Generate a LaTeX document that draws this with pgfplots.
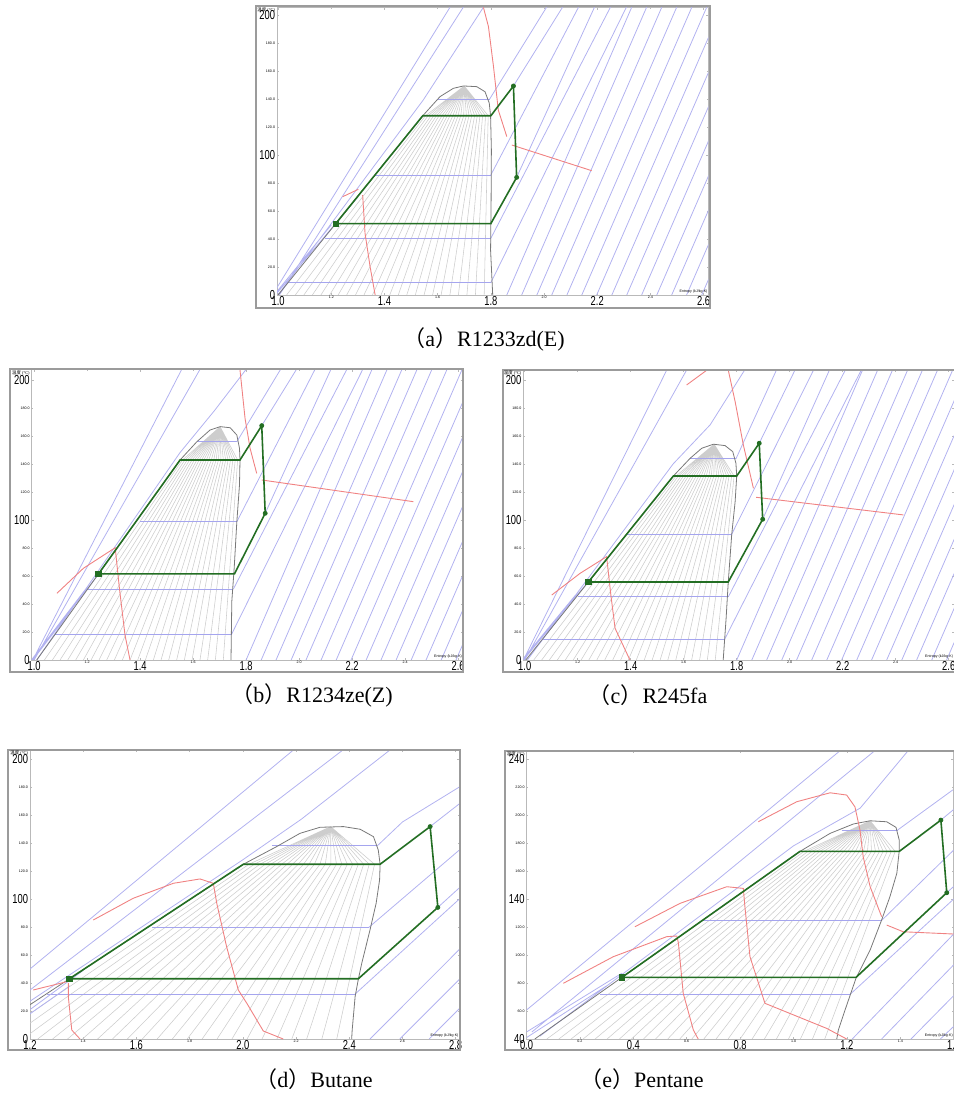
\documentclass[border=0pt]{standalone}
\usepackage{fontspec}
\setmainfont{Liberation Serif}
\newfontfamily\cjk{Noto Sans CJK SC}
\newfontfamily\lab{Liberation Sans}
\usepackage{graphicx}
\usepackage{pgfplots}
\pgfplotsset{compat=1.18}
\definecolor{isoblue}{RGB}{178,178,240}
\definecolor{hblue}{RGB}{165,165,238}
\definecolor{qgray}{RGB}{205,205,205}
\definecolor{domeg}{RGB}{120,120,120}
\definecolor{cgreen}{RGB}{35,110,35}
\definecolor{cred}{RGB}{240,130,130}
\definecolor{framegray}{RGB}{155,155,155}
\newcommand\bl[1]{\scalebox{0.72}[1]{\lab\fontsize{6.5}{6.5}\selectfont #1}}
\newcommand\smlab[1]{{\lab\fontsize{1.8}{2}\selectfont #1}}
\pgfplotsset{
  tsax/.style={scale only axis, anchor=south west, clip=true,
    axis line style={gray!55, line width=0.4pt},
    tick style={gray!55, line width=0.3pt}, major tick length=1.2pt,
    xticklabel style={inner sep=0.5pt, anchor=north},
    yticklabel style={inner sep=0.8pt},
    extra x tick style={major tick length=0.8pt},
    extra y tick style={major tick length=0.8pt}},
  iso/.style={no marks, draw=isoblue, line width=0.4pt, unbounded coords=jump},
  hiso/.style={no marks, draw=hblue, line width=0.45pt, unbounded coords=jump},
  qual/.style={no marks, draw=qgray, line width=0.28pt, unbounded coords=jump},
  dome/.style={no marks, draw=domeg, line width=0.4pt},
  redl/.style={no marks, draw=cred, line width=0.45pt, unbounded coords=jump},
  cyc/.style={no marks, draw=cgreen, line width=0.8pt},
}
\begin{document}
\begin{tikzpicture}
\useasboundingbox (0,0) rectangle (476.5pt,558.5pt);
% ================= (a) =================
\begin{axis}[tsax, name=pa, at={(138.5pt,411pt)}, width=215.7pt, height=143.85pt,
  xmin=0.996, xmax=2.618, ymin=0, ymax=205.5,
  xtick={1.0,1.4,1.8,2.2,2.6}, xticklabels={\bl{1.0},\bl{1.4},\bl{1.8},\bl{2.2},\bl{2.6}},
  extra x ticks={1.2,1.6,2.0,2.4}, extra x tick labels={\smlab{1.2},\smlab{1.6},\smlab{2.0},\smlab{2.4}},
  ytick={0,100,200}, yticklabels={\bl{0},\bl{100},\bl{200}},
  extra y ticks={20,40,60,80,120,140,160,180},
  extra y tick labels={\smlab{20.0},\smlab{40.0},\smlab{60.0},\smlab{80.0},\smlab{120.0},\smlab{140.0},\smlab{160.0},\smlab{180.0}}]
\addplot[qual] coordinates {
(1.032,0)(1.554,128)(1.70,149.3)(1,nan)(1.065,0)(1.564,128)(1.70,149.3)(1,nan)
(1.097,0)(1.575,128)(1.70,149.3)(1,nan)(1.129,0)(1.585,128)(1.70,149.3)(1,nan)
(1.161,0)(1.595,128)(1.70,149.3)(1,nan)(1.194,0)(1.605,128)(1.70,149.3)(1,nan)
(1.226,0)(1.616,128)(1.70,149.3)(1,nan)(1.258,0)(1.626,128)(1.70,149.3)(1,nan)
(1.291,0)(1.636,128)(1.70,149.3)(1,nan)(1.323,0)(1.646,128)(1.70,149.3)(1,nan)
(1.355,0)(1.657,128)(1.70,149.3)(1,nan)(1.387,0)(1.667,128)(1.70,149.3)(1,nan)
(1.420,0)(1.677,128)(1.70,149.3)(1,nan)(1.452,0)(1.687,128)(1.70,149.3)(1,nan)
(1.484,0)(1.698,128)(1.70,149.3)(1,nan)(1.516,0)(1.708,128)(1.70,149.3)(1,nan)
(1.549,0)(1.718,128)(1.70,149.3)(1,nan)(1.581,0)(1.728,128)(1.70,149.3)(1,nan)
(1.613,0)(1.739,128)(1.70,149.3)(1,nan)(1.646,0)(1.749,128)(1.70,149.3)(1,nan)
(1.678,0)(1.759,128)(1.70,149.3)(1,nan)(1.710,0)(1.769,128)(1.70,149.3)(1,nan)
(1.742,0)(1.780,128)(1.70,149.3)(1,nan)(1.775,0)(1.790,128)(1.70,149.3)};
\addplot[hiso] coordinates {(1.600,139.8)(1.795,139.8)(1,nan)(1.365,85.7)(1.802,85.7)(1,nan)(1.177,40.5)(1.80,40.5)(1,nan)(1.035,8.8)(1.80,8.8)};
\addplot[iso] coordinates {
(1.795,139.8)(2.01,205.7)(1,nan)(1.885,149.3)(2.07,205.7)(1,nan)(1.80,85.7)(2.13,205.7)(1,nan)
(1.897,84)(2.19,205.7)(1,nan)(1.80,40.5)(2.25,205.7)(1,nan)(1.80,8.8)(2.31,205.7)(1,nan)
(1.860,0)(2.330,205.7)(1,nan)(1.916,0)(2.386,205.7)(1,nan)(1.973,0)(2.443,205.7)(1,nan)
(2.029,0)(2.499,205.7)(1,nan)(2.086,0)(2.556,205.7)(1,nan)(2.142,0)(2.612,205.7)(1,nan)
(2.198,0)(2.668,205.7)(1,nan)(2.255,0)(2.725,205.7)(1,nan)(2.311,0)(2.781,205.7)(1,nan)
(2.367,0)(2.837,205.7)(1,nan)(2.424,0)(2.894,205.7)(1,nan)(2.480,0)(2.950,205.7)(1,nan)
(2.536,0)(3.006,205.7)(1,nan)(2.593,0)(3.063,205.7)(1,nan)
(0.995,5)(1.647,205.7)(1,nan)(1.005,0)(1.697,205.7)(1,nan)(1.0,0)(1.546,139.3)(1.772,205.5)(1,nan)
(0.99,0)(1.30,70)(1,nan)(0.985,0)(1.20,50)};
\addplot[dome] coordinates {(1.0,0)(1.217,51)(1.544,128)(1.609,141.7)(1.659,147.6)(1.697,149.3)(1.747,148.8)(1.778,145.2)(1.794,137.1)(1.799,128)(1.802,103.6)(1.801,67.9)(1.799,32.1)(1.807,0)};
\addplot[redl] coordinates {(1.772,205.5)(1.791,191.7)(1.810,163.1)(1.828,132.1)(1.860,113.1)(1,nan)(1.879,107.1)(2.179,88.8)(1,nan)(1.243,70.2)(1.302,75.5)(1,nan)(1.318,71.4)(1.327,44.1)(1.346,20.2)(1.365,0)};
\addplot[cyc] coordinates {(1.217,51)(1.544,128)(1.800,128)(1.885,149.3)(1.897,84)(1.800,51)(1.217,51)};
\addplot[only marks, mark=*, mark size=1.0pt, cgreen] coordinates {(1.885,149.3)(1.897,84)};
\addplot[only marks, mark=square*, mark size=1.3pt, cgreen] coordinates {(1.217,51)};
\end{axis}
% ================= (b) =================
\begin{axis}[tsax, name=pb, at={(15.85pt,228.5pt)}, width=215.6pt, height=145.3pt,
  xmin=0.991, xmax=2.618, ymin=0, ymax=207.6,
  xtick={1.0,1.4,1.8,2.2,2.6}, xticklabels={\bl{1.0},\bl{1.4},\bl{1.8},\bl{2.2},\bl{2.6}},
  extra x ticks={1.2,1.6,2.0,2.4}, extra x tick labels={\smlab{1.2},\smlab{1.6},\smlab{2.0},\smlab{2.4}},
  ytick={0,100,200}, yticklabels={\bl{0},\bl{100},\bl{200}},
  extra y ticks={20,40,60,80,120,140,160,180},
  extra y tick labels={\smlab{20.0},\smlab{40.0},\smlab{60.0},\smlab{80.0},\smlab{120.0},\smlab{140.0},\smlab{160.0},\smlab{180.0}}]
\addplot[qual] coordinates {
(1.039,0)(1.560,142.9)(1.702,166.7)(1,nan)(1.069,0)(1.569,142.9)(1.702,166.7)(1,nan)
(1.098,0)(1.578,142.9)(1.702,166.7)(1,nan)(1.127,0)(1.587,142.9)(1.702,166.7)(1,nan)
(1.157,0)(1.596,142.9)(1.702,166.7)(1,nan)(1.186,0)(1.605,142.9)(1.702,166.7)(1,nan)
(1.215,0)(1.614,142.9)(1.702,166.7)(1,nan)(1.245,0)(1.623,142.9)(1.702,166.7)(1,nan)
(1.274,0)(1.632,142.9)(1.702,166.7)(1,nan)(1.303,0)(1.641,142.9)(1.702,166.7)(1,nan)
(1.333,0)(1.650,142.9)(1.702,166.7)(1,nan)(1.362,0)(1.659,142.9)(1.702,166.7)(1,nan)
(1.391,0)(1.669,142.9)(1.702,166.7)(1,nan)(1.420,0)(1.678,142.9)(1.702,166.7)(1,nan)
(1.450,0)(1.687,142.9)(1.702,166.7)(1,nan)(1.479,0)(1.696,142.9)(1.702,166.7)(1,nan)
(1.508,0)(1.705,142.9)(1.702,166.7)(1,nan)(1.538,0)(1.714,142.9)(1.702,166.7)(1,nan)
(1.567,0)(1.723,142.9)(1.702,166.7)(1,nan)(1.596,0)(1.732,142.9)(1.702,166.7)(1,nan)
(1.626,0)(1.741,142.9)(1.702,166.7)(1,nan)(1.655,0)(1.750,142.9)(1.702,166.7)(1,nan)
(1.684,0)(1.759,142.9)(1.702,166.7)(1,nan)(1.714,0)(1.768,142.9)(1.702,166.7)};
\addplot[hiso] coordinates {(1.614,155.9)(1.765,155.9)(1,nan)(1.40,98.8)(1.765,98.8)(1,nan)(1.205,50.7)(1.752,50.7)(1,nan)(1.079,18.3)(1.745,18.3)};
\addplot[iso] coordinates {
(1.765,155.9)(1.93,207.6)(1,nan)(1.859,167.4)(1.99,207.6)(1,nan)(1.765,98.8)(2.06,207.6)(1,nan)
(1.872,104.8)(2.12,207.6)(1,nan)(1.752,50.7)(2.18,207.6)(1,nan)(1.745,18.3)(2.24,207.6)(1,nan)
(1.800,0)(2.275,207.6)(1,nan)(1.857,0)(2.332,207.6)(1,nan)(1.913,0)(2.388,207.6)(1,nan)
(1.970,0)(2.445,207.6)(1,nan)(2.026,0)(2.501,207.6)(1,nan)(2.083,0)(2.558,207.6)(1,nan)
(2.140,0)(2.615,207.6)(1,nan)(2.196,0)(2.671,207.6)(1,nan)(2.253,0)(2.728,207.6)(1,nan)
(2.309,0)(2.784,207.6)(1,nan)(2.366,0)(2.841,207.6)(1,nan)(2.423,0)(2.898,207.6)(1,nan)
(2.479,0)(2.954,207.6)(1,nan)(2.536,0)(3.011,207.6)(1,nan)(2.592,0)(3.067,207.6)(1,nan)
(0.995,0)(1.557,207.6)(1,nan)(1.0,0)(1.626,207.6)(1,nan)(1.01,0)(1.55,148)(1.68,178)(1.80,207.6)(1,nan)
(0.995,0)(1.25,63)(1,nan)(0.99,0)(1.2,52)};
\addplot[dome] coordinates {(1.010,0)(1.243,61.5)(1.551,142.9)(1.614,155.9)(1.664,164.3)(1.702,166.7)(1.740,165.9)(1.765,160.7)(1.775,151.2)(1.777,142.9)(1.775,125)(1.765,98.8)(1.755,65.5)(1.746,41.7)(1.743,0)};
\addplot[redl] coordinates {(1.777,207.1)(1.796,172.6)(1.815,151.2)(1.840,133.3)(1,nan)(1.859,128.6)(2.431,113.1)(1,nan)(1.086,47.6)(1.186,65.5)(1.306,80.2)(1.322,51.2)(1.343,17.9)(1.362,0)};
\addplot[cyc] coordinates {(1.243,61.5)(1.551,142.9)(1.777,142.9)(1.859,167.4)(1.872,104.8)(1.756,61.5)(1.243,61.5)};
\addplot[only marks, mark=*, mark size=1.0pt, cgreen] coordinates {(1.859,167.4)(1.872,104.8)};
\addplot[only marks, mark=square*, mark size=1.3pt, cgreen] coordinates {(1.243,61.5)};
\end{axis}
% ================= (c) =================
\begin{axis}[tsax, name=pc, at={(261.7pt,228.5pt)}, width=215.3pt, height=145pt,
  xmin=0.995, xmax=2.62, ymin=0, ymax=207.1,
  xtick={1.0,1.4,1.8,2.2,2.6}, xticklabels={\bl{1.0},\bl{1.4},\bl{1.8},\bl{2.2},\bl{2.6}},
  extra x ticks={1.2,1.6,2.0,2.4}, extra x tick labels={\smlab{1.2},\smlab{1.6},\smlab{2.0},\smlab{2.4}},
  ytick={0,100,200}, yticklabels={\bl{0},\bl{100},\bl{200}},
  extra y ticks={20,40,60,80,120,140,160,180},
  extra y tick labels={\smlab{20.0},\smlab{40.0},\smlab{60.0},\smlab{80.0},\smlab{120.0},\smlab{140.0},\smlab{160.0},\smlab{180.0}}]
\addplot[qual] coordinates {
(1.034,0)(1.571,131.4)(1.715,154.1)(1,nan)(1.064,0)(1.580,131.4)(1.715,154.1)(1,nan)
(1.093,0)(1.590,131.4)(1.715,154.1)(1,nan)(1.123,0)(1.599,131.4)(1.715,154.1)(1,nan)
(1.153,0)(1.609,131.4)(1.715,154.1)(1,nan)(1.183,0)(1.618,131.4)(1.715,154.1)(1,nan)
(1.213,0)(1.628,131.4)(1.715,154.1)(1,nan)(1.242,0)(1.637,131.4)(1.715,154.1)(1,nan)
(1.272,0)(1.647,131.4)(1.715,154.1)(1,nan)(1.302,0)(1.657,131.4)(1.715,154.1)(1,nan)
(1.332,0)(1.666,131.4)(1.715,154.1)(1,nan)(1.362,0)(1.676,131.4)(1.715,154.1)(1,nan)
(1.391,0)(1.685,131.4)(1.715,154.1)(1,nan)(1.421,0)(1.695,131.4)(1.715,154.1)(1,nan)
(1.451,0)(1.704,131.4)(1.715,154.1)(1,nan)(1.481,0)(1.714,131.4)(1.715,154.1)(1,nan)
(1.511,0)(1.724,131.4)(1.715,154.1)(1,nan)(1.540,0)(1.733,131.4)(1.715,154.1)(1,nan)
(1.570,0)(1.743,131.4)(1.715,154.1)(1,nan)(1.600,0)(1.752,131.4)(1.715,154.1)(1,nan)
(1.630,0)(1.762,131.4)(1.715,154.1)(1,nan)(1.660,0)(1.771,131.4)(1.715,154.1)(1,nan)
(1.689,0)(1.781,131.4)(1.715,154.1)(1,nan)(1.719,0)(1.790,131.4)(1.715,154.1)};
\addplot[hiso] coordinates {(1.624,143.6)(1.797,143.6)(1,nan)(1.385,89.8)(1.781,89.8)(1,nan)(1.20,45.7)(1.770,45.7)(1,nan)(1.064,15)(1.755,15)};
\addplot[iso] coordinates {
(1.797,143.6)(1.95,207.1)(1,nan)(1.885,154.8)(2.02,207.1)(1,nan)(1.781,89.8)(2.09,207.1)(1,nan)
(1.898,100.5)(2.15,207.1)(1,nan)(1.770,45.7)(2.21,207.1)(1,nan)(1.755,15)(2.27,207.1)(1,nan)
(1.800,0)(2.275,207.1)(1,nan)(1.857,0)(2.332,207.1)(1,nan)(1.913,0)(2.388,207.1)(1,nan)
(1.970,0)(2.445,207.1)(1,nan)(2.026,0)(2.501,207.1)(1,nan)(2.083,0)(2.558,207.1)(1,nan)
(2.140,0)(2.615,207.1)(1,nan)(2.196,0)(2.671,207.1)(1,nan)(2.253,0)(2.728,207.1)(1,nan)
(2.309,0)(2.784,207.1)(1,nan)(2.366,0)(2.841,207.1)(1,nan)(2.423,0)(2.898,207.1)(1,nan)
(2.479,0)(2.954,207.1)(1,nan)(2.536,0)(3.011,207.1)(1,nan)(2.592,0)(3.067,207.1)(1,nan)
(0.995,0)(1.536,207.1)(1,nan)(1.0,0)(1.611,207.1)(1,nan)(1.01,0)(1.56,140)(1.70,168)(1.83,207.1)(1,nan)
(0.995,0)(1.24,56)(1,nan)(0.99,0)(1.19,46)};
\addplot[dome] coordinates {(1.004,0)(1.240,55.7)(1.561,131.4)(1.624,144.0)(1.668,151.2)(1.712,154.1)(1.756,153.1)(1.785,148.8)(1.797,140.5)(1.800,131.4)(1.794,113.1)(1.781,89.3)(1.768,55.5)(1.760,29.8)(1.749,0)};
\addplot[redl] coordinates {(1.611,196.4)(1.688,207.1)(1,nan)(1.768,207.1)(1.794,184.5)(1.825,153.6)(1.863,122.6)(1,nan)(1.873,116.2)(2.429,103.6)(1,nan)(1.102,46.4)(1.209,61.9)(1.309,73.8)(1.325,46.4)(1.341,22.6)(1.397,0)};
\addplot[cyc] coordinates {(1.240,55.7)(1.561,131.4)(1.800,131.4)(1.885,154.8)(1.898,100.5)(1.768,55.7)(1.240,55.7)};
\addplot[only marks, mark=*, mark size=1.0pt, cgreen] coordinates {(1.885,154.8)(1.898,100.5)};
\addplot[only marks, mark=square*, mark size=1.3pt, cgreen] coordinates {(1.240,55.7)};
\end{axis}
% ================= (d) =================
\begin{axis}[tsax, name=pd, at={(15pt,39pt)}, width=214.7pt, height=144.5pt,
  xmin=1.2, xmax=2.814, ymin=0, ymax=206.4,
  xtick={1.2,1.6,2.0,2.4,2.8}, xticklabels={\bl{1.2},\bl{1.6},\bl{2.0},\bl{2.4},\bl{2.8}},
  extra x ticks={1.4,1.8,2.2,2.6}, extra x tick labels={\smlab{1.4},\smlab{1.8},\smlab{2.2},\smlab{2.6}},
  ytick={0,100,200}, yticklabels={\bl{0},\bl{100},\bl{200}},
  extra y ticks={20,40,60,80,120,140,160,180},
  extra y tick labels={\smlab{20.0},\smlab{40.0},\smlab{60.0},\smlab{80.0},\smlab{120.0},\smlab{140.0},\smlab{160.0},\smlab{180.0}}]
\addplot[qual] coordinates {
(1.060,0)(2.023,124.8)(2.33,151.7)(1,nan)(1.116,0)(2.043,124.8)(2.33,151.7)(1,nan)
(1.173,0)(2.064,124.8)(2.33,151.7)(1,nan)(1.229,0)(2.084,124.8)(2.33,151.7)(1,nan)
(1.285,0)(2.105,124.8)(2.33,151.7)(1,nan)(1.341,0)(2.125,124.8)(2.33,151.7)(1,nan)
(1.397,0)(2.146,124.8)(2.33,151.7)(1,nan)(1.454,0)(2.166,124.8)(2.33,151.7)(1,nan)
(1.510,0)(2.187,124.8)(2.33,151.7)(1,nan)(1.566,0)(2.208,124.8)(2.33,151.7)(1,nan)
(1.622,0)(2.228,124.8)(2.33,151.7)(1,nan)(1.678,0)(2.249,124.8)(2.33,151.7)(1,nan)
(1.735,0)(2.269,124.8)(2.33,151.7)(1,nan)(1.791,0)(2.290,124.8)(2.33,151.7)(1,nan)
(1.847,0)(2.310,124.8)(2.33,151.7)(1,nan)(1.903,0)(2.331,124.8)(2.33,151.7)(1,nan)
(1.959,0)(2.352,124.8)(2.33,151.7)(1,nan)(2.016,0)(2.372,124.8)(2.33,151.7)(1,nan)
(2.072,0)(2.393,124.8)(2.33,151.7)(1,nan)(2.128,0)(2.413,124.8)(2.33,151.7)(1,nan)
(2.184,0)(2.434,124.8)(2.33,151.7)(1,nan)(2.240,0)(2.454,124.8)(2.33,151.7)(1,nan)
(2.297,0)(2.475,124.8)(2.33,151.7)(1,nan)(2.353,0)(2.495,124.8)(2.33,151.7)};
\addplot[hiso] coordinates {(2.11,137.9)(2.505,137.9)(1,nan)(1.66,79.8)(2.474,79.8)(1,nan)(1.263,32.1)(2.422,32.1)};
\addplot[iso] coordinates {
(2.505,137.9)(2.60,155)(2.814,180)(1,nan)(2.704,151.7)(2.814,168)(1,nan)(2.474,79.8)(2.814,135)(1,nan)
(2.733,94)(2.814,108)(1,nan)(2.422,32.1)(2.814,100)(1,nan)
(2.478,0)(2.814,64)(1,nan)(2.59,0)(2.814,42.6)(1,nan)(2.70,0)(2.814,21.7)(1,nan)
(1.2,50)(2.19,206.4)(1,nan)(1.2,35)(2.376,206.4)(1,nan)(1.2,27)(2.0,128)(2.22,157)(2.553,206.4)(1,nan)
(1.2,21)(1.40,49)(1,nan)(1.2,18)(1.35,38)};
\addplot[dome] coordinates {(1.004,0)(1.348,43)(2.002,124.8)(2.127,137.4)(2.215,146.9)(2.290,151.2)(2.378,151.7)(2.441,149.8)(2.491,144.5)(2.509,135)(2.516,124.8)(2.514,113.6)(2.501,96.9)(2.478,77.9)(2.447,54.1)(2.434,42.6)(2.422,30.2)(2.411,6.4)(2.409,0)};
\addplot[redl] coordinates {(1.438,85)(1.588,100.5)(1.739,111.2)(1.839,114.3)(1.889,111.2)(1.902,96.9)(1.939,65.9)(1.983,35)(2.015,25.5)(2.077,5.7)(2.152,0)(1,nan)(1.212,35)(1.338,40.9)(1,nan)(1.344,40)(1.344,30.2)(1.357,6.4)(1.388,0)};
\addplot[cyc] coordinates {(1.348,43)(2.002,124.8)(2.516,124.8)(2.704,151.7)(2.733,94)(2.434,43)(1.348,43)};
\addplot[only marks, mark=*, mark size=1.0pt, cgreen] coordinates {(2.704,151.7)(2.733,94)};
\addplot[only marks, mark=square*, mark size=1.3pt, cgreen] coordinates {(1.348,43)};
\end{axis}
% ================= (e) =================
\begin{axis}[tsax, name=pe, at={(263.25pt,39pt)}, width=213.6pt, height=144.1pt,
  xmin=0, xmax=1.6, ymin=40, ymax=245.9,
  xtick={0.0,0.4,0.8,1.2,1.6}, xticklabels={\bl{0.0},\bl{0.4},\bl{0.8},\bl{1.2},\bl{1.6}},
  extra x ticks={0.2,0.6,1.0,1.4}, extra x tick labels={\smlab{0.2},\smlab{0.6},\smlab{1.0},\smlab{1.4}},
  ytick={40,140,240}, yticklabels={\bl{40},\bl{140},\bl{240}},
  extra y ticks={60,80,100,120,160,180,200,220},
  extra y tick labels={\smlab{60.0},\smlab{80.0},\smlab{100.0},\smlab{120.0},\smlab{160.0},\smlab{180.0},\smlab{200.0},\smlab{220.0}}]
\addplot[qual] coordinates {
(0.076,40)(1.039,174)(1.287,195.9)(1,nan)(0.121,40)(1.054,174)(1.287,195.9)(1,nan)
(0.167,40)(1.069,174)(1.287,195.9)(1,nan)(0.212,40)(1.084,174)(1.287,195.9)(1,nan)
(0.257,40)(1.098,174)(1.287,195.9)(1,nan)(0.302,40)(1.113,174)(1.287,195.9)(1,nan)
(0.348,40)(1.128,174)(1.287,195.9)(1,nan)(0.393,40)(1.143,174)(1.287,195.9)(1,nan)
(0.438,40)(1.158,174)(1.287,195.9)(1,nan)(0.483,40)(1.173,174)(1.287,195.9)(1,nan)
(0.529,40)(1.188,174)(1.287,195.9)(1,nan)(0.574,40)(1.203,174)(1.287,195.9)(1,nan)
(0.619,40)(1.217,174)(1.287,195.9)(1,nan)(0.664,40)(1.232,174)(1.287,195.9)(1,nan)
(0.710,40)(1.247,174)(1.287,195.9)(1,nan)(0.755,40)(1.262,174)(1.287,195.9)(1,nan)
(0.800,40)(1.277,174)(1.287,195.9)(1,nan)(0.845,40)(1.292,174)(1.287,195.9)(1,nan)
(0.891,40)(1.307,174)(1.287,195.9)(1,nan)(0.936,40)(1.322,174)(1.287,195.9)(1,nan)
(0.981,40)(1.336,174)(1.287,195.9)(1,nan)(1.026,40)(1.351,174)(1.287,195.9)(1,nan)
(1.071,40)(1.366,174)(1.287,195.9)(1,nan)(1.117,40)(1.381,174)(1.287,195.9)};
\addplot[hiso] coordinates {(1.18,189.3)(1.39,189.3)(1,nan)(0.656,124.5)(1.329,124.5)(1,nan)(0.275,71.9)(1.212,71.9)};
\addplot[iso] coordinates {
(1.39,189.3)(1.597,218)(1,nan)(1.552,196.4)(1.60,204)(1,nan)(1.329,124.5)(1.60,175)(1,nan)
(1.574,144.5)(1.60,149)(1,nan)(1.212,71.9)(1.60,140)(1,nan)
(1.22,40)(1.60,115)(1,nan)(1.33,40)(1.60,93)(1,nan)(1.44,40)(1.60,71)(1,nan)(1.55,40)(1.60,49)(1,nan)
(0,60.7)(1.174,245.9)(1,nan)(0.02,45)(1.304,245.9)(1,nan)(0.05,42)(1.00,178)(1.25,205)(1.429,245.9)(1,nan)
(0,45)(0.357,87)(1,nan)(0,41)(0.30,78)};
\addplot[dome] coordinates {(0.031,40)(0.357,84)(1.024,174)(1.137,186.9)(1.224,193.6)(1.287,195.9)(1.349,195.2)(1.384,191.2)(1.396,182.1)(1.396,174.5)(1.387,158.4)(1.361,141.6)(1.330,125)(1.287,103.6)(1.234,83.4)(1.193,60.7)(1.168,46.4)(1.162,40)};
\addplot[redl] coordinates {(0.868,195.2)(1.012,209.5)(1.137,215.9)(1.199,214.3)(1.230,205.9)(1.249,189.3)(1.261,170.2)(1.287,148.8)(1.330,127.4)(1,nan)
(1.349,121.4)(1.411,116.6)(1.60,115)(1,nan)
(0.406,120.2)(0.575,136.9)(0.750,148.8)(0.812,147.6)(0.818,134.5)(0.837,98.8)(0.893,65.5)(1.124,47.6)(1.199,40)(1,nan)
(0.138,79.8)(0.325,98.8)(0.525,113.1)(0.563,113.6)(0.569,108.4)(0.587,72.6)(0.625,46.4)(0.643,40)};
\addplot[cyc] coordinates {(0.357,84)(1.024,174)(1.396,174)(1.552,196.4)(1.574,144.5)(1.234,84)(0.357,84)};
\addplot[only marks, mark=*, mark size=1.0pt, cgreen] coordinates {(1.552,196.4)(1.574,144.5)};
\addplot[only marks, mark=square*, mark size=1.3pt, cgreen] coordinates {(0.357,84)};
\end{axis}
% frames
\draw[framegray, line width=0.9pt] (128pt,404.5pt) rectangle (355pt,555.5pt);
\draw[framegray, line width=0.9pt] (5pt,222.5pt) rectangle (231.5pt,374pt);
\draw[framegray, line width=0.9pt] (251.35pt,222.5pt) rectangle (480pt,373.5pt);
\draw[framegray, line width=0.9pt] (4pt,33.5pt) rectangle (230pt,183.5pt);
\draw[framegray, line width=0.9pt] (252.5pt,33.5pt) rectangle (480pt,183.15pt);
% corner labels
\foreach \p in {pa,pb,pc,pd,pe}{
  \node[anchor=north east, inner sep=0.3pt, font=\fontsize{2.2}{2.5}\selectfont] at ([xshift=-0.5pt]\p.north west) {{\cjk 温度} (°C)};
  \node[anchor=south east, inner sep=0.3pt, font=\lab\fontsize{1.8}{2}\selectfont] at ([yshift=0.5pt]\p.south east) {Entropy (kJ/kg·K)};
}
% captions
\node[font=\fontsize{11}{11}\selectfont] at (242pt,389pt) {{\cjk （}a{\cjk ）}R1233zd(E)};
\node[font=\fontsize{11}{11}\selectfont] at (156pt,211pt) {{\cjk （}b{\cjk ）}R1234ze(Z)};
\node[font=\fontsize{11}{11}\selectfont] at (324pt,211pt) {{\cjk （}c{\cjk ）}R245fa};
\node[font=\fontsize{11}{11}\selectfont] at (157pt,19pt) {{\cjk （}d{\cjk ）}Butane};
\node[font=\fontsize{11}{11}\selectfont] at (321pt,19pt) {{\cjk （}e{\cjk ）}Pentane};
\end{tikzpicture}
\end{document}
